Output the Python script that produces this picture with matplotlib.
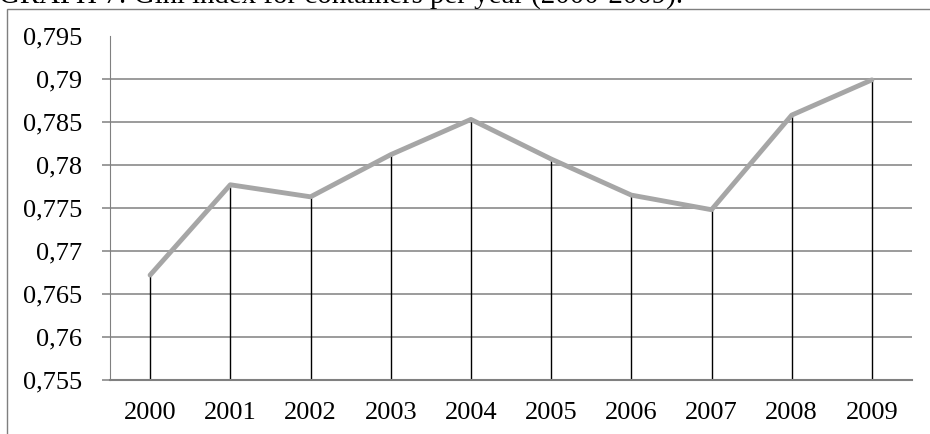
import matplotlib
matplotlib.use("Agg")
from matplotlib import pyplot as plt
from matplotlib.patches import Rectangle

# Gini index per year
years = ["2000", "2001", "2002", "2003", "2004", "2005", "2006", "2007", "2008", "2009"]
gini = [0.7672, 0.7777, 0.7763, 0.7812, 0.7853, 0.7807, 0.7765, 0.7748, 0.7858, 0.7899]
yticks = [0.755, 0.76, 0.765, 0.77, 0.775, 0.78, 0.785, 0.79, 0.795]
ytick_labels = ["0,755", "0,76", "0,765", "0,77", "0,775", "0,78", "0,785", "0,79", "0,795"]
title = "GRAPH 7: Gini index for containers per year (2000-2009)."

plt.rcParams['font.family'] = ['Liberation Serif', 'DejaVu Serif']

W, H = 930, 434
fig = plt.figure(figsize=(W / 100, H / 100), dpi=100)
fig.patch.set_facecolor("white")

# outer box of the chart area (cut off on right and bottom)
fig.patches.append(Rectangle((7 / W, -0.2), 2, 1 - 9 / H + 0.2, transform=fig.transFigure,
                             fill=False, edgecolor="#7f7f7f", linewidth=1.0))
fig.text(-0.001, 1 - 4 / H, title, fontsize=20.8, va="baseline", ha="left")

ax = fig.add_axes([110 / W, (H - 380) / H, (912 - 110) / W, (380 - 36) / H])
x = list(range(len(years)))

# gridlines (not at the top)
for v in yticks[1:-1]:
    ax.axhline(v, color="#808080", linewidth=1.1, zorder=1)

ax.vlines(x, yticks[0], gini, color="black", linewidth=1.0, zorder=2)
ax.plot(x, gini, color="#a6a6a6", linewidth=3.5, solid_capstyle="round", zorder=3)

ax.set_xlim(-0.5, len(years) - 0.5)
ax.set_ylim(yticks[0], yticks[-1])
ax.set_yticks(yticks)
ax.set_yticklabels(ytick_labels)
ax.set_xticks(x)
ax.set_xticklabels(years)

for s in ["top", "right"]:
    ax.spines[s].set_visible(False)
ax.spines["left"].set_color("#808080")
ax.spines["bottom"].set_color("#808080")
ax.spines["bottom"].set_linewidth(1.5)
ax.spines["bottom"].set_zorder(4)

ax.tick_params(axis="y", length=6, color="#808080", width=1.1, pad=14, labelsize=19)
ax.tick_params(axis="x", length=0, pad=16, labelsize=19)
ax.yaxis.get_ticklines()[-2].set_visible(False)

fig.savefig("out.png", dpi=100)
